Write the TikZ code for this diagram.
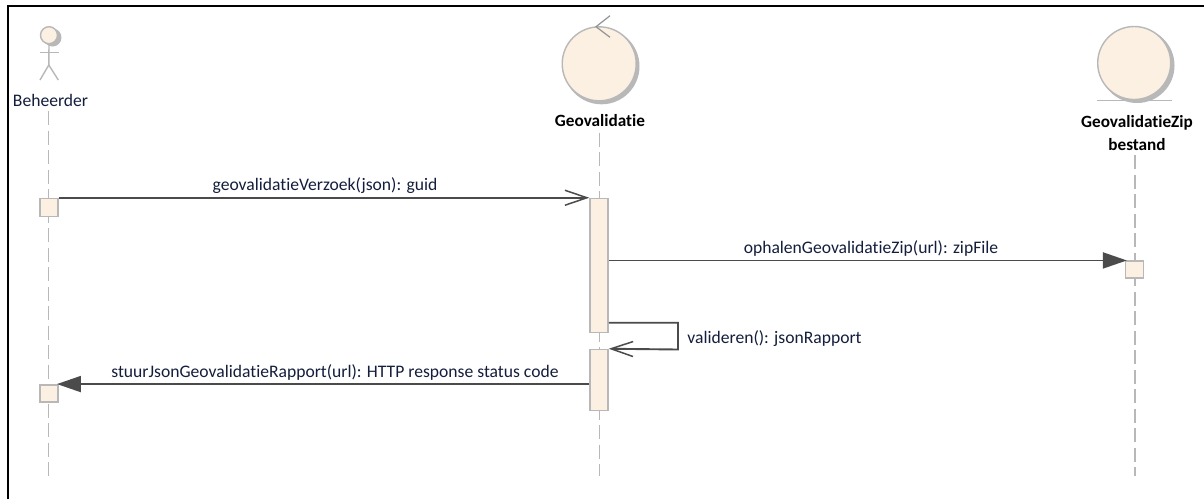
\documentclass[tikz,border=0pt]{standalone}
\usepackage{fontspec}
\setmainfont[Ligatures={NoCommon}]{Carlito}
\usetikzlibrary{arrows.meta}
\definecolor{lifeFill}{RGB}{251,240,226}
\definecolor{lifeLine}{RGB}{184,184,184}
\definecolor{msgLine}{RGB}{75,75,75}
\definecolor{labelInk}{RGB}{20,30,60}
\begin{document}
\begin{tikzpicture}
[x=1pt,y=-1pt,
  lifeDecorate/.style={lifeLine,line width=1.5pt,dash pattern=on 14pt off 5.5pt},%
  barDecorate/.style={shape=rectangle,draw=lifeLine,fill=lifeFill,line width=1.5pt,inner sep=0pt,minimum width=18pt},
  headDecorate/.style={shape=circle,draw=lifeLine,fill=lifeFill,line width=1.4pt,inner sep=0pt},
  shadowDecorate/.style={shape=circle,fill=lifeLine,inner sep=0pt},
  openMsg/.style={msgLine,line width=1.9pt,-{Straight Barb[length=22pt,width=15pt,line width=1.5pt]}},
  fullMsg/.style={msgLine,line width=1.9pt,shorten >=-2pt,-{Triangle[length=24pt,width=16pt,fill=msgLine]}},
  textDecorate/.style={inner sep=0pt,text=labelInk,font=\fontsize{17.6pt}{23pt}\selectfont},
  boldDecorate/.style={inner sep=0pt,text=black,align=center,font=\fontsize{17.2pt}{23pt}\selectfont\bfseries}]
\useasboundingbox (0,0) rectangle (1204,499);
\fill[white] (0,0) rectangle (1204,499);
%% page edges
\coordinate (edgeBottom) at (7.5,499);
\coordinate (edgeCorner) at (7.5,6.3);
\coordinate (edgeRight) at (1204,6.3);
\draw[black,line width=2pt] (edgeBottom) -- (edgeCorner) -- (edgeRight);
%% lifelines
\coordinate (beheerderTop) at (48.5,111);
\coordinate (beheerderEnd) at (48.5,476);
\coordinate (geoTop) at (599.3,132.5);
\coordinate (geoEnd) at (599.3,476);
\coordinate (zipTop) at (1135,155);
\coordinate (zipEnd) at (1135,476);
\foreach \startnode/\endnode in {
  beheerderTop/beheerderEnd, geoTop/geoEnd, zipTop/zipEnd}
{
  \draw[lifeDecorate] (\startnode) -- (\endnode);
}
%% actor
\node (actorShadow) at (52.5,37.5) [shadowDecorate,minimum size=18pt] {};
\node (actorHead) at (49,35.2) [headDecorate,minimum size=17pt] {};
\coordinate (actorHip) at (48.8,65);
\coordinate (armLeft) at (39.5,52.5);
\coordinate (armRight) at (59,52.5);
\coordinate (footLeft) at (40,80);
\coordinate (footRight) at (58.3,80);
\draw[lifeLine,line width=1.4pt] (actorHead.south) -- (actorHip);
\draw[lifeLine,line width=1.4pt] (armLeft) -- (armRight);
\draw[lifeLine,line width=1.4pt] (footLeft) -- (actorHip) -- (footRight);
\node (beheerder) at (50.5,100) [textDecorate] {Beheerder};
%% control
\node (geoShadow) at (601.5,66.3) [shadowDecorate,minimum size=76pt] {};
\node (geoHead) at (599.2,63.8) [headDecorate,minimum size=74pt] {};
\coordinate (tickTop) at (610,15.7);
\coordinate (tickTip) at (596,26.7);
\coordinate (tickEnd) at (610,37.3);
\draw[lifeLine!80!black,line width=1.2pt] (tickTop) -- (tickTip) -- (tickEnd);
\node (geovalidatie) at (600,120.7) [boldDecorate] {Geovalidatie};
%% entity
\node (zipShadow) at (1137,65.5) [shadowDecorate,minimum size=75pt] {};
\node (zipHead) at (1134.2,63) [headDecorate,minimum size=73pt] {};
\coordinate (groundLeft) at (1096.7,100.7);
\coordinate (groundRight) at (1172.3,100.7);
\draw[lifeLine,line width=1.4pt] (groundLeft) -- (groundRight);
\node (zipName) at (1137,133.5) [boldDecorate,anchor=center] {GeovalidatieZip\\bestand};
%% activations
\foreach \nodename/\x/\y/\h in {
  barOne/49.2/207.5/18, barTwo/599/265.5/134, barThree/599/380/61,
  barFour/1134.6/269.7/17, barFive/49.2/393.3/17}
{
  \node (\nodename) at (\x,\y) [barDecorate,minimum height=\h pt] {};
}
%% messages
\draw[openMsg] (barOne.north east) -- (barTwo.north west);
\draw[fullMsg] (barTwo.east |- barFour.north) -- (barFour.north west);
\coordinate (loopStart) at (barTwo.east |- 0,322.7);
\coordinate (loopRight) at (678,322.7);
\coordinate (loopLow) at (678,349.5);
\draw[openMsg] (loopStart) -- (loopRight) -- (loopLow) -- (barThree.north east);
\draw[fullMsg] (barThree.west |- barFive.north) -- (barFive.north east);
%% labels
\node (askText) at (325,185.5) [textDecorate] {geovalidatieVerzoek(json): guid};
\node (zipText) at (871,248) [textDecorate] {ophalenGeovalidatieZip(url): zipFile};
\node (loopText) at (774.5,338.5) [textDecorate] {valideren(): jsonRapport};
\node (replyText) at (335,372) [textDecorate] {stuurJsonGeovalidatieRapport(url): HTTP response status code};
\end{tikzpicture}
\end{document}
